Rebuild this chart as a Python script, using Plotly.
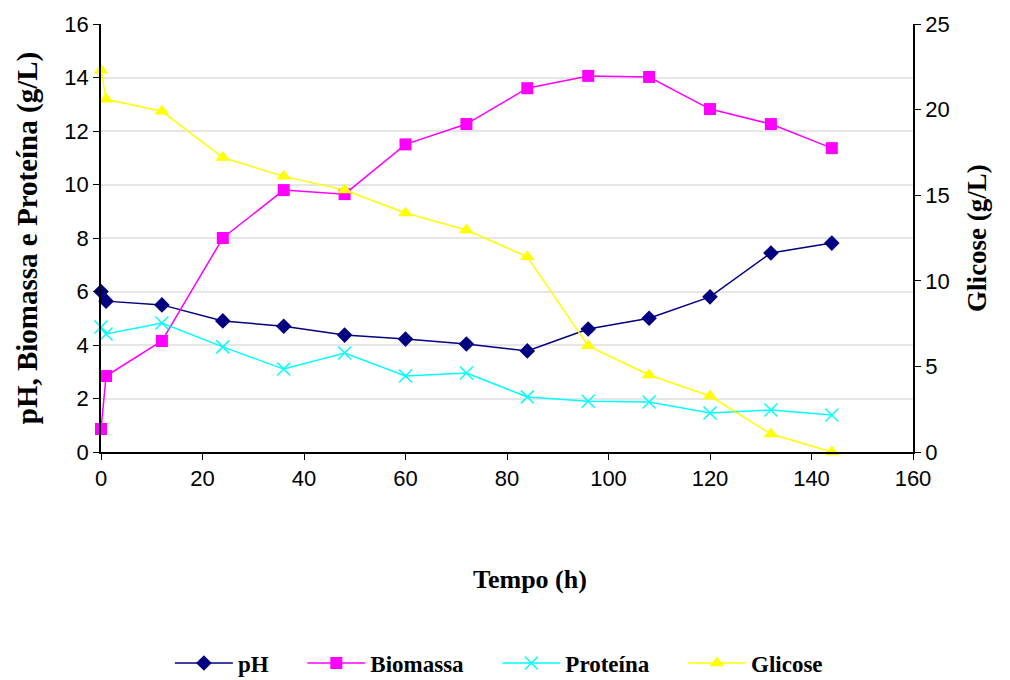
import plotly.graph_objects as go

tempo = [0, 1, 12, 24, 36, 48, 60, 72, 84, 96, 108, 120, 132, 144]
ph = [6.0, 5.64, 5.5, 4.9, 4.7, 4.37, 4.22, 4.04, 3.78, 4.6, 5.0, 5.8, 7.44, 7.81]
biomassa = [0.86, 2.84, 4.15, 8.0, 9.79, 9.64, 11.5, 12.26, 13.6, 14.06, 14.02, 12.82, 12.26, 11.36]
proteina = [4.67, 4.41, 4.82, 3.93, 3.1, 3.7, 2.84, 2.95, 2.06, 1.9, 1.87, 1.46, 1.57, 1.38]
glicose = [22.3, 20.6, 19.9, 17.2, 16.1, 15.3, 13.96, 12.97, 11.4, 6.2, 4.5, 3.27, 1.05, 0.0]

pad = "\u00a0" * 5

fig = go.Figure()
fig.add_trace(go.Scatter(x=tempo, y=ph, name="pH" + pad, mode="lines+markers",
                         cliponaxis=False,
                         line=dict(color="#000080", width=1.5),
                         marker=dict(symbol="diamond", size=12, color="#000080")))
fig.add_trace(go.Scatter(x=tempo, y=biomassa, name="Biomassa" + pad, mode="lines+markers",
                         cliponaxis=False,
                         line=dict(color="#ff00ff", width=1.5),
                         marker=dict(symbol="square", size=12, color="#ff00ff")))
fig.add_trace(go.Scatter(x=tempo, y=proteina, name="Proteína" + pad, mode="lines+markers",
                         cliponaxis=False,
                         line=dict(color="#00ffff", width=1.5),
                         marker=dict(symbol="x-thin-open", size=13,
                                     line=dict(color="#00ffff", width=1.5))))
fig.add_trace(go.Scatter(x=tempo, y=glicose, name="Glicose", mode="lines+markers",
                         yaxis="y2", cliponaxis=False,
                         line=dict(color="#ffff00", width=1.5),
                         marker=dict(symbol="triangle-up", size=13, color="#ffff00")))

tickfont = dict(family="Liberation Sans, Arial", size=22, color="#000000")
serif = "Liberation Serif, Times New Roman"

fig.update_layout(
    width=1010, height=680,
    margin=dict(l=101, r=97, t=24, b=228, autoexpand=False),
    paper_bgcolor="white", plot_bgcolor="white",
    showlegend=True,
    legend=dict(orientation="h", x=0.49, xanchor="center",
                yref="container", y=0.025, yanchor="middle",
                font=dict(family=serif, size=23, color="#000000", weight="bold"),
                itemwidth=58),
    annotations=[dict(text="Tempo (h)", xref="paper", yref="paper",
                      x=0.528, y=-0.299, xanchor="center", yanchor="middle",
                      showarrow=False,
                      font=dict(family=serif, size=26, color="#000000", weight="bold"))],
    xaxis=dict(range=[0, 160], tickvals=[0, 20, 40, 60, 80, 100, 120, 140, 160],
               showline=True, linecolor="#000000", linewidth=1.5,
               ticks="outside", ticklen=6, tickcolor="#000000",
               showgrid=False, zeroline=False, tickfont=tickfont),
    yaxis=dict(range=[0, 16], tickvals=[0, 2, 4, 6, 8, 10, 12, 14, 16],
               showline=True, linecolor="#000000", linewidth=1.5,
               ticks="outside", ticklen=6, tickcolor="#000000",
               showgrid=True, gridcolor="#e6e6e6", gridwidth=1.5,
               zeroline=False, tickfont=tickfont,
               title=dict(text="pH, Biomassa e Proteína (g/L)", standoff=18,
                          font=dict(family=serif, size=29, color="#000000", weight="bold"))),
    yaxis2=dict(range=[0, 25], tickvals=[0, 5, 10, 15, 20, 25], overlaying="y", side="right",
                showline=True, linecolor="#000000", linewidth=1.5,
                ticks="outside", ticklen=6, tickcolor="#000000",
                showgrid=False, zeroline=False, tickfont=tickfont,
                title=dict(text="Glicose (g/L)", standoff=18,
                           font=dict(family=serif, size=27, color="#000000", weight="bold"))),
)

fig.write_html("out.html")
